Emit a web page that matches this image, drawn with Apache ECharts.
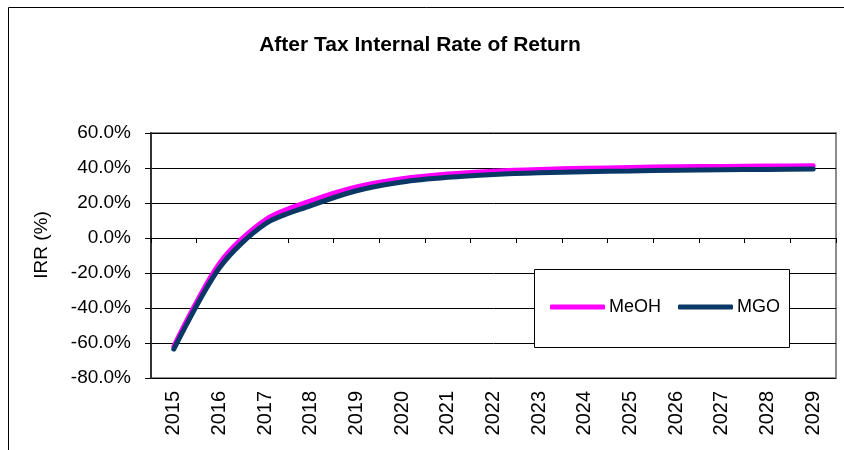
<!DOCTYPE html>
<html>
<head>
<meta charset="utf-8">
<script src="https://cdn.jsdelivr.net/npm/echarts@6/dist/echarts.min.js"></script>
<style>
  html, body { margin: 0; padding: 0; background: #fff; }
  #chart { width: 844px; height: 450px; }
</style>
</head>
<body>
<div id="chart"></div>
<script>
  // years on the x axis
  const years = ['2015', '2016', '2017', '2018', '2019', '2020', '2021', '2022',
    '2023', '2024', '2025', '2026', '2027', '2028', '2029']
  // IRR values in percent
  const meohIrr = [-62, -14.5, 10.3, 21.2, 29.2, 33.9, 36.6, 38.2, 39.2, 39.8, 40.3, 40.7, 40.9, 41.1, 41.3]
  const mgoIrr = [-63.5, -17, 8, 18.5, 27, 32.0, 34.7, 36.3, 37.3, 37.9, 38.3, 38.7, 39.0, 39.2, 39.4]
  const yTicks = [-80, -60, -40, -20, 0, 20, 40, 60]

  const fontFamily = 'Liberation Sans, Arial, sans-serif'
  const chart = echarts.init(document.getElementById('chart'))

  chart.setOption({
    animation: false,
    textStyle: { fontFamily: fontFamily },
    graphic: [
      {
        // outer chart frame
        type: 'polyline',
        shape: { points: [[8.5, 450], [8.5, 7.5], [844, 7.5]] },
        style: { stroke: '#000', lineWidth: 1, fill: null }
      },
      {
        // legend box
        type: 'rect',
        z: 5,
        shape: { x: 534.5, y: 269.5, width: 255, height: 78 },
        style: { fill: '#fff', stroke: '#000', lineWidth: 1 }
      },
      {
        // y axis title
        type: 'text',
        x: 42,
        y: 245,
        rotation: Math.PI / 2,
        style: {
          text: 'IRR (%)',
          fontSize: 19,
          fontFamily: fontFamily,
          fill: '#000',
          align: 'center',
          verticalAlign: 'middle'
        }
      }
    ],
    title: {
      text: 'After Tax Internal Rate of Return',
      left: 415,
      top: 30,
      textAlign: 'center',
      textStyle: { fontSize: 21, fontWeight: 'bold', color: '#000', fontFamily: fontFamily }
    },
    legend: {
      left: 550,
      top: 298,
      padding: 0,
      z: 10,
      itemWidth: 55,
      itemHeight: 5,
      itemGap: 17,
      icon: 'roundRect',
      textStyle: { fontSize: 18, color: '#000', padding: [0, 0, 0, -1] },
      data: ['MeOH', 'MGO']
    },
    grid: {
      left: 151,
      right: 8,
      top: 133,
      bottom: 72,
      show: true,
      borderColor: '#8c8c8c',
      borderWidth: 2
    },
    xAxis: [
      {
        type: 'category',
        data: years,
        boundaryGap: true,
        axisLine: { show: false, onZero: false },
        axisTick: { show: false },
        axisLabel: { rotate: 90, fontSize: 20, color: '#000', margin: 13 }
      },
      {
        type: 'category',
        data: years,
        boundaryGap: true,
        position: 'bottom',
        axisLine: { show: true, onZero: true, lineStyle: { color: '#000', width: 1 } },
        axisTick: { show: true, length: 5, lineStyle: { color: '#000' } },
        axisLabel: { show: false },
        splitLine: { show: false }
      }
    ],
    yAxis: {
      type: 'value',
      min: yTicks[0],
      max: yTicks[yTicks.length - 1],
      interval: 20,
      axisLine: { show: true, lineStyle: { color: '#333', width: 2 } },
      axisTick: { show: true, length: 6, lineStyle: { color: '#000' } },
      axisLabel: {
        fontSize: 19,
        color: '#000',
        margin: 20,
        formatter: (v) => v.toFixed(1) + '%'
      },
      splitLine: { show: true, lineStyle: { color: '#000', width: 1 } }
    },
    series: [
      {
        name: 'MeOH',
        type: 'line',
        data: meohIrr,
        smooth: 0.3,
        showSymbol: false,
        color: '#ff00ff',
        lineStyle: { width: 5, color: '#ff00ff', cap: 'round' }
      },
      {
        name: 'MGO',
        type: 'line',
        data: mgoIrr,
        smooth: 0.3,
        showSymbol: false,
        color: '#0a3866',
        lineStyle: { width: 5, color: '#0a3866', cap: 'round' }
      }
    ]
  })
</script>
</body>
</html>
